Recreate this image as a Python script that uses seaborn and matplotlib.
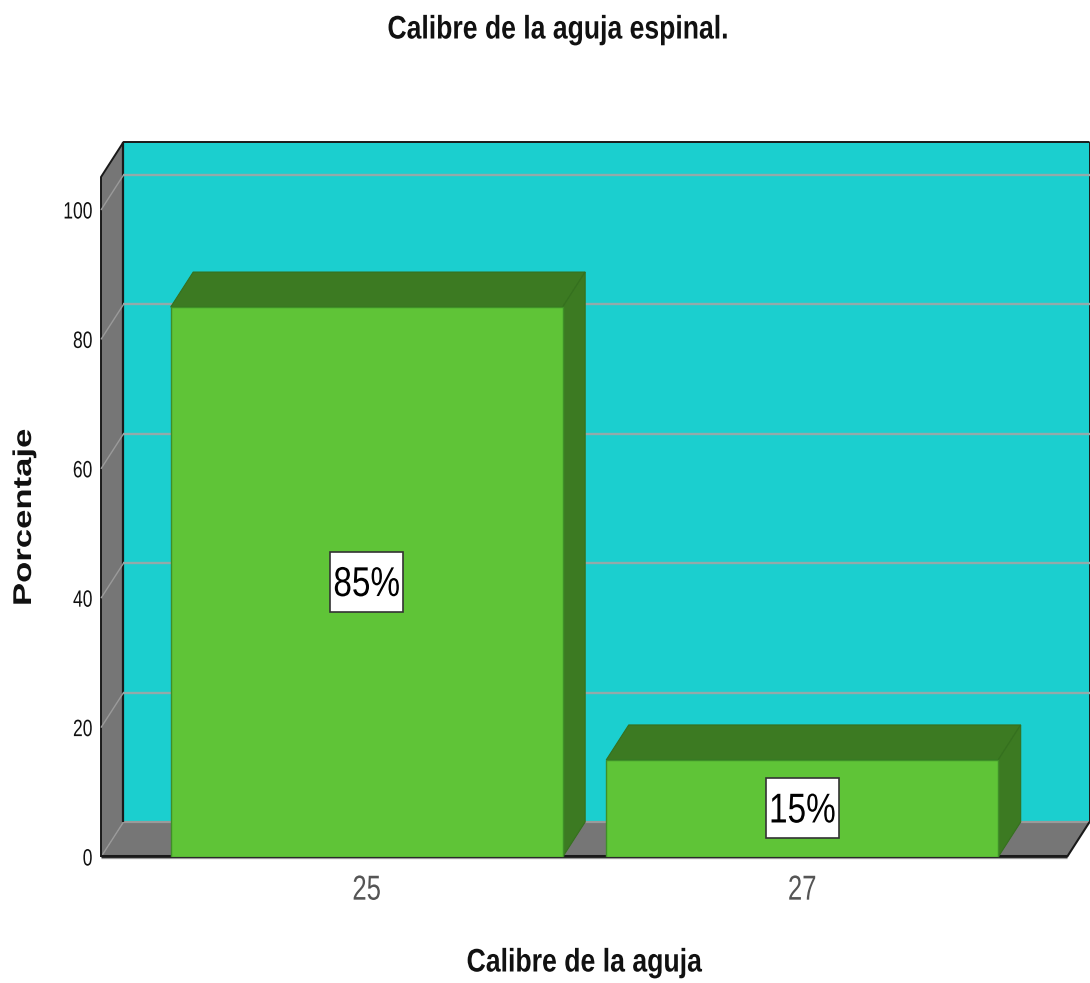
import matplotlib
matplotlib.use("Agg")
import matplotlib.pyplot as plt
from matplotlib.patches import Polygon
from matplotlib.patheffects import AbstractPathEffect
from matplotlib.transforms import Affine2D
import pandas as pd
import seaborn as sns

categories = ["25", "27"]
values = [85, 15]
labels = ["85%", "15%"]
y_ticks = [0, 20, 40, 60, 80, 100]

W, H = 1090, 983
DPI = 100
sns.set_theme(style="white")
plt.rcParams["font.family"] = ["Liberation Sans", "DejaVu Sans"]


class Squeeze(AbstractPathEffect):
    """Scale a text's outline about its own centre (or right edge)."""

    def __init__(self, sx=1.0, sy=1.0, anchor="center"):
        super().__init__()
        self.sx, self.sy, self.anchor = sx, sy, anchor

    def draw_path(self, renderer, gc, tpath, affine, rgbFace=None):
        bb = tpath.get_extents(affine)
        cx = bb.x1 if self.anchor == "right" else (bb.x0 + bb.x1) / 2
        cy = (bb.y0 + bb.y1) / 2
        extra = Affine2D().translate(-cx, -cy).scale(self.sx, self.sy).translate(cx, cy)
        renderer.draw_path(gc, tpath, affine + extra, rgbFace)


fig = plt.figure(figsize=(W / DPI, H / DPI), dpi=DPI)
L, R, B, T = 101, 1067, 857, 177
ax = fig.add_axes([L / W, 1 - B / H, (R - L) / W, (B - T) / H])
ax.patch.set_alpha(0)

df = pd.DataFrame({"cal": categories, "pct": values})
sns.barplot(data=df, x="cal", y="pct", width=0.9, color="#5fc437", saturation=1,
            edgecolor="#3f8f28", linewidth=1, ax=ax, zorder=5)
ax.set_xlim(-0.61, 1.608)
ax.set_ylim(0, (B - T) / 6.47)

x_per_px = (1.608 + 0.61) / (R - L)
y_per_px = 1 / 6.47
dx, dy = 22.5 * x_per_px, 35 * y_per_px
x0, x1 = ax.get_xlim()
y0, y1 = ax.get_ylim()


def poly(pts, fc, ec="none", lw=0, z=1):
    ax.add_patch(Polygon(pts, closed=True, facecolor=fc, edgecolor=ec, linewidth=lw,
                         zorder=z, clip_on=False))


def seg(xs, ys, color, lw, z=3):
    ax.plot(xs, ys, color=color, lw=lw, zorder=z, clip_on=False, solid_capstyle="butt")


frame = "#1a1a1a"
grey_line = "#9a9a9a"
poly([(x0 + dx, y0 + dy), (x1 + dx, y0 + dy), (x1 + dx, y1 + dy), (x0 + dx, y1 + dy)], "#1bcfcf", z=1)
poly([(x0, y0), (x0 + dx, y0 + dy), (x0 + dx, y1 + dy), (x0, y1)], "#767676", z=2)
poly([(x0, y0), (x1, y0), (x1 + dx, y0 + dy), (x0 + dx, y0 + dy)], "#767676", z=2)
seg([x0, x0 + dx], [y0, y0 + dy], grey_line, 1.0)
seg([x0 + dx, x1 + dx], [y0 + dy, y0 + dy], grey_line, 1.6)
seg([x0, x0, x0 + dx, x1 + dx], [y0, y1, y1 + dy, y1 + dy], frame, 1.4)
seg([x0 + dx, x0 + dx], [y0 + dy, y1 + dy], frame, 1.6)
seg([x1 + dx, x1 + dx], [y0 + dy, y1 + dy], frame, 1.4)
seg([x1, x1 + dx], [y0, y0 + dy], frame, 1.5)
seg([x0, x1], [y0 + 0.1, y0 + 0.1], frame, 2.2, z=4)
seg([x0, x1], [y0 - 0.18, y0 - 0.18], grey_line, 0.9, z=4)

for t in y_ticks[1:]:
    seg([x0, x0 + dx], [t, t + dy], grey_line, 1.0)
    seg([x0 + dx, x1 + dx], [t + dy, t + dy], "#93aaaa", 1.7)

box_w, box_h = 73 * x_per_px, 60 * y_per_px
for bar, lab in zip(ax.patches, labels):
    bx, bw, bh = bar.get_x(), bar.get_width(), bar.get_height()
    cx, cy = bx + bw / 2, bh / 2
    poly([(bx, bh), (bx + bw, bh), (bx + bw + dx, bh + dy), (bx + dx, bh + dy)],
         "#3c7a22", "#35701e", 0.8, z=4.5)
    poly([(bx + bw, 0), (bx + bw + dx, dy), (bx + bw + dx, bh + dy), (bx + bw, bh)],
         "#3c7a22", "#35701e", 0.8, z=4.5)
    poly([(cx - box_w / 2, cy - box_h / 2), (cx + box_w / 2, cy - box_h / 2),
          (cx + box_w / 2, cy + box_h / 2), (cx - box_w / 2, cy + box_h / 2)],
         "white", "#333333", 1.2, z=6)
    t = ax.text(cx, cy - 3 * y_per_px, lab, ha="center", va="center", fontsize=30,
                color="black", zorder=7)
    t.set_path_effects([Squeeze(sx=0.8)])

for s in ax.spines.values():
    s.set_visible(False)
ax.set_yticks(y_ticks)
ax.set_yticklabels([str(t) for t in y_ticks], fontsize=17, color="#111111")
ax.tick_params(axis="y", left=False, length=0, pad=6)
ax.tick_params(axis="x", bottom=False, length=0, labelsize=25, labelcolor="#555555", pad=12)
for lab in ax.get_yticklabels():
    lab.set_path_effects([Squeeze(sx=0.74, anchor="right")])
for lab in ax.get_xticklabels():
    lab.set_path_effects([Squeeze(sx=0.74)])
ax.set_xlabel("")
ax.set_ylabel("")

title = fig.text(558 / W, 1 - 30 / H, "Calibre de la aguja espinal.", ha="center", va="center",
                 fontsize=23.5, fontweight="bold", color="#111111")
title.set_path_effects([Squeeze(sx=0.814)])
xlab = fig.text(584 / W, 1 - 963 / H, "Calibre de la aguja", ha="center", va="center",
                fontsize=23.5, fontweight="bold", color="#111111")
xlab.set_path_effects([Squeeze(sx=0.816)])
ylab = fig.text(24 / W, 1 - 517 / H, "Porcentaje", ha="center", va="center", rotation=90,
                fontsize=18.5, fontweight="bold", color="#111111")
ylab.set_path_effects([Squeeze(sy=1.35)])

fig.savefig("out.png", dpi=DPI)
